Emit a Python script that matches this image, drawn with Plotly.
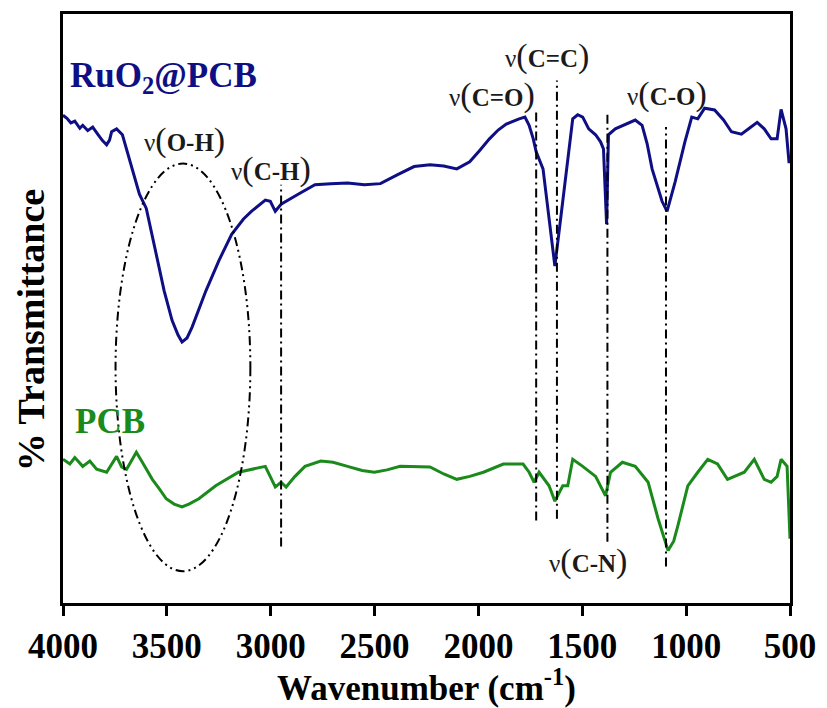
import plotly.graph_objects as go

# RuO2@PCB spectrum (wavenumber, % transmittance, arbitrary offset)
ru_wn = [4000, 3981, 3962, 3943, 3919, 3905, 3881, 3857, 3833, 3810, 3790, 3776, 3766, 3742, 3714, 3690,
         3666, 3632, 3599, 3568, 3537, 3513, 3475, 3446, 3427, 3403, 3379, 3312, 3250, 3188, 3131, 3093,
         3026, 3002, 2978, 2950, 2868, 2787, 2711, 2630, 2549, 2472, 2391, 2310, 2233, 2167, 2104, 2042,
         1995, 1947, 1905, 1866, 1804, 1776, 1756, 1736, 1722, 1689, 1660, 1632, 1594, 1565, 1546, 1522,
         1498, 1469, 1436, 1412, 1398, 1383, 1374, 1341, 1293, 1245, 1212, 1188, 1164, 1135, 1116, 1092,
         1053, 1006, 973, 944, 911, 863, 820, 782, 734, 696, 658, 624, 591, 562, 543, 519, 505, 500]
ru_t = [82.8, 82.3, 81.5, 81.8, 80.6, 81.1, 80.2, 80.8, 79.6, 78.5, 77.8, 78.6, 80.0, 80.5, 79.5, 76.5,
        73.7, 69.4, 67.0, 62.0, 56.9, 53.0, 48.0, 45.5, 44.3, 45.0, 46.8, 53.0, 58.1, 62.6, 65.2, 66.5,
        68.4, 68.2, 66.5, 67.7, 69.4, 71.0, 71.2, 71.3, 71.0, 71.2, 72.7, 74.1, 74.4, 74.2, 73.7, 74.9,
        76.8, 78.8, 80.3, 81.3, 82.2, 82.5, 81.1, 78.8, 76.6, 73.7, 65.3, 57.2, 68.2, 76.6, 82.2, 82.9,
        82.5, 80.5, 79.5, 78.3, 77.1, 64.3, 79.5, 80.5, 81.3, 82.0, 81.1, 78.0, 73.7, 70.5, 68.2, 66.5,
        71.5, 78.3, 82.5, 82.2, 84.0, 83.7, 82.0, 80.0, 79.6, 80.6, 81.6, 80.5, 78.8, 78.8, 83.8, 80.5, 74.9, 74.9]

# PCB spectrum
pcb_wn = [4000, 3967, 3943, 3905, 3871, 3838, 3790, 3742, 3718, 3694, 3671, 3647, 3618, 3570, 3537, 3503,
          3465, 3427, 3394, 3346, 3265, 3155, 3026, 2978, 2950, 2926, 2883, 2835, 2759, 2700, 2630, 2560,
          2501, 2440, 2377, 2295, 2233, 2167, 2104, 2042, 1976, 1880, 1785, 1756, 1732, 1708, 1660, 1632,
          1594, 1570, 1546, 1498, 1436, 1388, 1364, 1307, 1245, 1183, 1160, 1135, 1087, 1060, 1040, 992,
          944, 896, 849, 801, 720, 672, 624, 591, 562, 543, 514, 500]
pcb_t = [24.4, 23.6, 24.7, 23.2, 24.1, 22.7, 22.2, 24.9, 23.1, 22.7, 24.1, 25.6, 23.9, 21.0, 19.4, 17.7,
         16.8, 16.3, 16.8, 17.7, 19.9, 22.2, 23.2, 19.7, 20.5, 19.7, 21.5, 23.2, 24.1, 23.9, 23.2, 22.5,
         22.2, 22.6, 23.2, 23.2, 23.1, 21.9, 21.0, 21.5, 22.2, 23.6, 23.6, 22.2, 20.5, 22.2, 19.9, 17.3,
         19.9, 19.9, 24.4, 23.2, 21.5, 18.2, 22.2, 23.9, 23.2, 20.5, 17.5, 14.3, 8.9, 10.5, 13.1, 19.9,
         22.2, 24.4, 23.6, 21.0, 22.2, 24.4, 21.0, 20.5, 21.5, 24.4, 23.2, 10.9]

# Band markers: position, top, bottom
band_names = ["C-H", "C=O", "C=C", "C-N", "C-O"]
band_wn = [2950, 1722, 1622, 1379, 1097]
band_top = [71.0, 83.7, 88.7, 83.3, 80.8]
band_bot = [9.6, 14.0, 14.3, 10.4, 6.2]

# Band labels
label_names = ["O-H", "C-H", "C=O", "C=C", "C-O", "C-N"]
label_wn = [3417, 2997, 1937, 1670, 1092, 1474]
label_t = [78.6, 73.7, 86.2, 92.9, 86.4, 7.2]

# O-H ellipse
ell_wn = [3747, 3098]
ell_t = [5.4, 74.6]

tick_vals = [4000, 3500, 3000, 2500, 2000, 1500, 1000, 500]

BLUE = "#0f0f85"
GREEN = "#1a8a1a"
FONT = "Liberation Serif, Times New Roman, serif"

fig = go.Figure()
fig.add_trace(go.Scatter(x=ru_wn, y=ru_t, mode="lines", line=dict(color=BLUE, width=3), showlegend=False))
fig.add_trace(go.Scatter(x=pcb_wn, y=pcb_t, mode="lines", line=dict(color=GREEN, width=3), showlegend=False))

for w, t0, t1 in zip(band_wn, band_top, band_bot):
    fig.add_shape(type="line", x0=w, x1=w, y0=t1, y1=t0, xref="x", yref="y",
                  line=dict(color="black", width=2, dash="9px,4px,2px,4px"))

fig.add_shape(type="circle", x0=ell_wn[0], x1=ell_wn[1], y0=ell_t[0], y1=ell_t[1], xref="x", yref="y",
              line=dict(color="black", width=2, dash="9px,4px,2px,4px,2px,4px"))

for name, w, t in zip(label_names, label_wn, label_t):
    fig.add_annotation(x=w, y=t, xref="x", yref="y", showarrow=False,
                       text="ν<span style='font-size:34px'>(</span><b>" + name + "</b><span style='font-size:34px'>)</span>",
                       font=dict(family=FONT, size=25, color="#1a1a1a"))

fig.add_annotation(x=3976, y=89.2, xref="x", yref="y", xanchor="left", showarrow=False,
                   text="RuO<sub>2</sub>@PCB", font=dict(family=FONT, size=35, color=BLUE, weight="bold"))
fig.add_annotation(x=3952, y=30.8, xref="x", yref="y", xanchor="left", showarrow=False,
                   text="PCB", font=dict(family=FONT, size=35, color=GREEN, weight="bold"))

# y-axis title placed as rotated text, centred where the reference has it
fig.add_annotation(x=-0.044, y=0.463, xref="paper", yref="paper", xanchor="center", yanchor="middle",
                   textangle=-90, showarrow=False, text="% Transmittance",
                   font=dict(family=FONT, size=38, color="black", weight="bold"))

fig.update_layout(
    width=827, height=708,
    margin=dict(l=63, r=30, t=11, b=103),
    paper_bgcolor="white", plot_bgcolor="white",
    font=dict(family=FONT, color="black"),
    xaxis=dict(range=[4000, 500], tickvals=tick_vals, ticks="outside", ticklen=10, tickwidth=3,
               tickcolor="black", showline=True, linewidth=3, linecolor="black", mirror=True,
               showgrid=False, zeroline=False,
               tickfont=dict(family=FONT, size=35, color="black", weight="bold"),
               title=dict(text="Wavenumber (cm<sup>-1</sup>)",
                          font=dict(family=FONT, size=35, color="black", weight="bold"), standoff=6)),
    yaxis=dict(range=[0, 100], showticklabels=False, ticks="", showline=True, linewidth=3,
               linecolor="black", mirror=True, showgrid=False, zeroline=False),
)

fig.write_html("out.html")
